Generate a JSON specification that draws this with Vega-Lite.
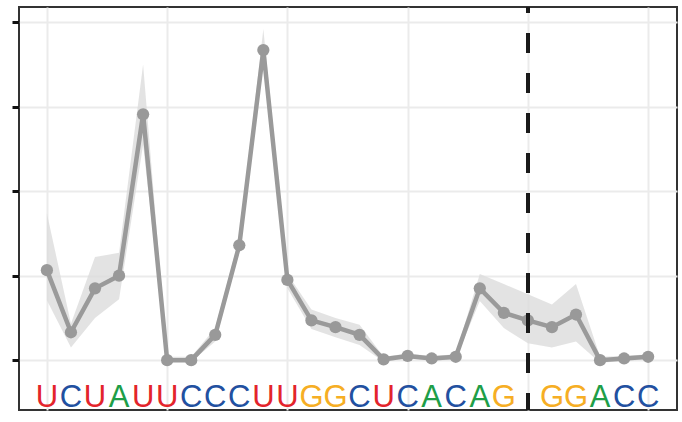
{
  "$schema": "https://vega.github.io/schema/vega-lite/v6.json",
  "width": 658,
  "height": 403,
  "autosize": {"type": "none"},
  "padding": {"left": 19, "top": 7, "right": 5, "bottom": 12},
  "background": "white",
  "config": {
    "view": {"stroke": "#333333", "strokeWidth": 2},
    "axis": {"gridColor": "#ebebeb", "gridWidth": 2, "title": null}
  },
  "data": {
    "values": [
      {"pos": 1, "nt": "U", "v": 1.065, "lo": 0.71, "hi": 1.74},
      {"pos": 2, "nt": "C", "v": 0.33, "lo": 0.15, "hi": 0.43},
      {"pos": 3, "nt": "U", "v": 0.85, "lo": 0.50, "hi": 1.22},
      {"pos": 4, "nt": "A", "v": 1.0, "lo": 0.72, "hi": 1.27},
      {"pos": 5, "nt": "U", "v": 2.91, "lo": 2.55, "hi": 3.50},
      {"pos": 6, "nt": "U", "v": 0.0, "lo": -0.02, "hi": 0.04},
      {"pos": 7, "nt": "C", "v": 0.0, "lo": -0.02, "hi": 0.04},
      {"pos": 8, "nt": "C", "v": 0.30, "lo": 0.22, "hi": 0.38},
      {"pos": 9, "nt": "C", "v": 1.36, "lo": 1.28, "hi": 1.45},
      {"pos": 10, "nt": "U", "v": 3.67, "lo": 3.50, "hi": 3.92},
      {"pos": 11, "nt": "U", "v": 0.95, "lo": 0.85, "hi": 1.02},
      {"pos": 12, "nt": "G", "v": 0.47, "lo": 0.37, "hi": 0.60},
      {"pos": 13, "nt": "G", "v": 0.39, "lo": 0.27, "hi": 0.50},
      {"pos": 14, "nt": "C", "v": 0.30, "lo": 0.18, "hi": 0.42},
      {"pos": 15, "nt": "U", "v": 0.01, "lo": -0.02, "hi": 0.04},
      {"pos": 16, "nt": "C", "v": 0.05, "lo": 0.02, "hi": 0.08},
      {"pos": 17, "nt": "A", "v": 0.02, "lo": -0.01, "hi": 0.05},
      {"pos": 18, "nt": "C", "v": 0.04, "lo": 0.01, "hi": 0.07},
      {"pos": 19, "nt": "A", "v": 0.85, "lo": 0.70, "hi": 1.02},
      {"pos": 20, "nt": "G", "v": 0.56, "lo": 0.38, "hi": 0.90},
      {"pos": 21, "nt": "", "v": 0.47, "lo": 0.20, "hi": 0.78},
      {"pos": 22, "nt": "G", "v": 0.39, "lo": 0.15, "hi": 0.66},
      {"pos": 23, "nt": "G", "v": 0.54, "lo": 0.22, "hi": 0.90},
      {"pos": 24, "nt": "A", "v": 0.0, "lo": -0.03, "hi": 0.04},
      {"pos": 25, "nt": "C", "v": 0.02, "lo": -0.01, "hi": 0.05},
      {"pos": 26, "nt": "C", "v": 0.04, "lo": 0.01, "hi": 0.07}
    ]
  },
  "layer": [
    {
      "mark": {"type": "area", "color": "#dcdcdc", "opacity": 0.8},
      "encoding": {
        "x": {"field": "pos", "type": "quantitative",
              "scale": {"domain": [-0.16, 27.2], "nice": false, "zero": false},
              "axis": {"values": [1, 6, 11, 16, 21, 26], "labels": false, "ticks": false, "domain": false, "grid": true}},
        "y": {"field": "lo", "type": "quantitative",
              "scale": {"domain": [-0.59, 4.18], "nice": false, "zero": false},
              "axis": {"values": [0, 1, 2, 3, 4], "labels": false, "ticks": true, "tickSize": 7, "tickWidth": 3, "tickColor": "#111111", "domain": false, "grid": true}},
        "y2": {"field": "hi"}
      }
    },
    {
      "mark": {"type": "line", "color": "#9a9a9a", "strokeWidth": 4.5},
      "encoding": {
        "x": {"field": "pos", "type": "quantitative"},
        "y": {"field": "v", "type": "quantitative"}
      }
    },
    {
      "mark": {"type": "point", "filled": true, "color": "#999999", "opacity": 1, "size": 150},
      "encoding": {
        "x": {"field": "pos", "type": "quantitative"},
        "y": {"field": "v", "type": "quantitative"}
      }
    },
    {
      "mark": {"type": "text", "fontSize": 31, "font": "Liberation Sans", "baseline": "alphabetic", "align": "center"},
      "encoding": {
        "x": {"field": "pos", "type": "quantitative"},
        "y": {"datum": -0.556},
        "text": {"field": "nt"},
        "color": {"field": "nt", "type": "nominal",
                  "scale": {"domain": ["A", "C", "G", "U", ""], "range": ["#1e9e48", "#2250a0", "#f6ae24", "#e3242b", "#ffffff"]},
                  "legend": null}
      }
    },
    {
      "mark": {"type": "rule", "color": "#1a1a1a", "strokeWidth": 3.5, "strokeDash": [20, 20], "strokeDashOffset": 14},
      "encoding": {"x": {"datum": 21}}
    }
  ]
}
